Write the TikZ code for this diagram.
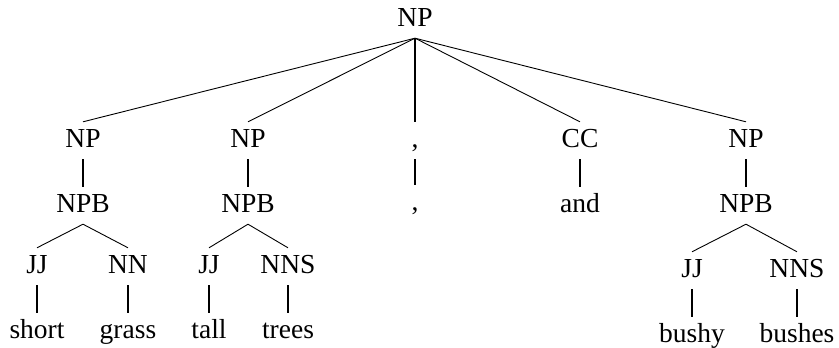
\documentclass[tikz,border=0pt]{standalone}
\usepackage{fontspec}
\setmainfont{Liberation Serif}
\begin{document}
\begin{tikzpicture}[x=1pt,y=-1pt,
  lbl/.style={anchor=base,inner xsep=0pt,inner ysep=6pt,
    text height=19pt,text depth=6pt,
    font=\fontsize{27.5}{33}\selectfont},
  branch/.style={line width=0.9pt},
  stem/.style={line width=2pt}]
\useasboundingbox (0,0) rectangle (839,348);
% root
\node[lbl,inner ysep=5pt] (root) at (415,27) {NP};
% first level
\node[lbl] (np1) at (83,147) {NP};
\node[lbl] (np2) at (248,147) {NP};
\node[lbl] (cm1) at (415,147) {,};
\node[lbl] (cc)  at (580,147) {CC};
\node[lbl] (np3) at (746,147) {NP};
% second level
\node[lbl] (npb1) at (83,212) {NPB};
\node[lbl] (npb2) at (248,212) {NPB};
\node[lbl] (cm2)  at (415,210) {,};
\node[lbl] (and)  at (580,212) {and};
\node[lbl] (npb3) at (746,212) {NPB};
% tags
\node[lbl] (jj1)  at (37,273) {JJ};
\node[lbl] (nn1)  at (128,273) {NN};
\node[lbl] (jj2)  at (209,273) {JJ};
\node[lbl] (nns2) at (288,273) {NNS};
\node[lbl] (jj3)  at (692,277) {JJ};
\node[lbl] (nns3) at (797,277) {NNS};
% words
\node[lbl] (w1) at (37,338) {short};
\node[lbl] (w2) at (128,338) {grass};
\node[lbl] (w3) at (209,338) {tall};
\node[lbl] (w4) at (288,338) {trees};
\node[lbl] (w5) at (692,342) {bushy};
\node[lbl] (w6) at (797,342) {bushes};
% branches from the root
\draw[branch] (root.south) -- (np1.north);
\draw[branch] (root.south) -- (np2.north);
\draw[stem]   (root.south) -- (cm1.north);
\draw[branch] (root.south) -- (cc.north);
\draw[branch] (root.south) -- (np3.north);
% unary links
\draw[stem] (np1.south) -- (npb1.north);
\draw[stem] (np2.south) -- (npb2.north);
\draw[stem] (cm1.south) -- (cm2.north);
\draw[stem] (cc.south)  -- (and.north);
\draw[stem] (np3.south) -- (npb3.north);
% base noun phrases
\draw[branch] (npb1.south) -- (jj1.north);
\draw[branch] (npb1.south) -- (nn1.north);
\draw[branch] (npb2.south) -- (jj2.north);
\draw[branch] (npb2.south) -- (nns2.north);
\draw[branch] (npb3.south) -- (jj3.north);
\draw[branch] (npb3.south) -- (nns3.north);
% tags to words
\draw[stem] (jj1.south)  -- (w1.north);
\draw[stem] (nn1.south)  -- (w2.north);
\draw[stem] (jj2.south)  -- (w3.north);
\draw[stem] (nns2.south) -- (w4.north);
\draw[stem] (jj3.south)  -- (w5.north);
\draw[stem] (nns3.south) -- (w6.north);
\end{tikzpicture}
\end{document}
